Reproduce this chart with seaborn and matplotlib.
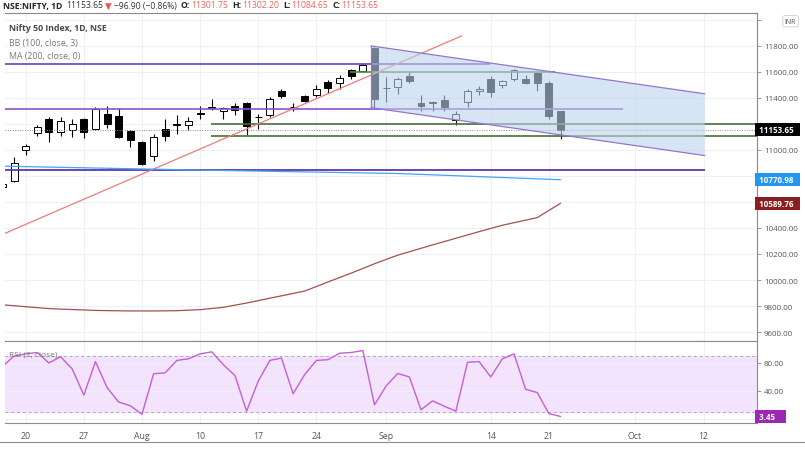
import numpy as np
import pandas as pd
import matplotlib
matplotlib.use('Agg')
import matplotlib.pyplot as plt
import matplotlib.transforms as mtrans
import seaborn as sns

# candles, indexed by trading day (0 = Jul 20)
bar_idx = list(range(-2, 47))
opens = [10712, 10758, 11001, 11128, 11241, 11139, 11156, 11238, 11159, 11279,
         11261, 11143, 11062, 10951, 11159, 11195, 11189, 11278, 11326, 11297,
         11338, 11361, 11253, 11266, 11457, 11329, 11411, 11419, 11522, 11514,
         11616, 11606, 11782, 11475, 11483, 11572, 11361, 11371, 11381, 11228,
         11369, 11450, 11547, 11496, 11542, 11542, 11591, 11514, 11301.75]
highs = [10760, 10942, 11049, 11190, 11250, 11250, 11240, 11245, 11330, 11340,
         11322, 11150, 11070, 11120, 11240, 11270, 11250, 11340, 11395, 11330,
         11360, 11365, 11275, 11410, 11465, 11360, 11425, 11500, 11540, 11575,
         11625, 11665, 11795, 11562, 11560, 11600, 11425, 11380, 11420, 11300,
         11465, 11490, 11565, 11540, 11625, 11575, 11600, 11530, 11302.20]
lows = [10700, 10750, 10960, 11110, 11064, 11110, 11100, 11090, 11150, 11170,
        11090, 11020, 10882, 10915, 11070, 11125, 11150, 11240, 11310, 11240,
        11265, 11115, 11160, 11250, 11400, 11300, 11370, 11410, 11440, 11470,
        11545, 11600, 11325, 11371, 11430, 11515, 11300, 11300, 11300, 11190,
        11330, 11420, 11410, 11475, 11530, 11505, 11450, 11240, 11084.65]
closes = [10742, 10903, 11031, 11174, 11141, 11220, 11200, 11139, 11312, 11202,
          11097, 11080, 10891, 11100, 11105, 11199, 11220, 11280, 11328, 11322,
          11304, 11185, 11255, 11394, 11411, 11331, 11379, 11470, 11478, 11555,
          11572, 11654, 11394, 11477, 11547, 11529, 11340, 11361, 11330, 11279,
          11457, 11470, 11445, 11527, 11611, 11516, 11514, 11258, 11153.65]

rsi = [75, 90, 93, 95, 80, 89, 71.5, 34, 82, 44.7, 24, 18.7, 6.5, 64.5, 66, 83.7,
       86, 93, 96, 77.6, 62, 11, 54, 83.7, 87, 36, 63.5, 83.7, 84.7, 94, 95, 97.8,
       20, 47, 65, 60, 13, 25.8, 18, 11, 81, 82, 60, 86, 93, 42.3, 37.6, 7.4, 3.45]

ma_idx = [-1.8, 2, 6, 9, 11, 13, 15, 17, 19, 21, 24, 26, 28, 30, 32, 35, 37, 39, 41, 44, 46]
ma_val = [9808, 9780, 9766, 9762, 9762, 9764, 9772, 9790, 9823, 9860, 9915, 9985,
          10053, 10125, 10191, 10270, 10321, 10372, 10421, 10480, 10590]
bb_idx = [-1.8, 15, 32, 46]
bb_val = [10875, 10845, 10819, 10771]

tick_pos = [0, 5, 10, 15, 20, 25, 31, 40, 45, 52.4, 58.3]
tick_lab = ['20', '27', 'Aug', '10', '17', '24', 'Sep', '14', '21', 'Oct', '12']
price_ticks = list(range(9600, 12001, 200))
# labels hidden behind the price tags / currency box
covered = [10600, 10800, 11200, 12000]

sns.set_style('white')
plt.rcParams['font.family'] = ['Open Sans', 'DejaVu Sans']

fig = plt.figure(figsize=(8.05, 4.52), dpi=100)
W, H = 805, 452
ax = fig.add_axes([5 / W, (H - 342) / H, 752 / W, 328 / H])
ax2 = fig.add_axes([5 / W, (H - 424) / H, 752 / W, 82 / H], sharex=ax)

XL = (-1.78, 62.9)
ax.set_xlim(*XL)
ax.set_ylim(9531, 12053)
grid_c = '#EDF1F7'
for a in (ax, ax2):
    for t in tick_pos:
        a.axvline(t, color=grid_c, lw=0.8, zorder=0)
    for s in a.spines.values():
        s.set_color('#8A8A8A')
        s.set_linewidth(0.8)
    a.spines['left'].set_visible(False)
for p in price_ticks:
    ax.axhline(p, color=grid_c, lw=0.8, zorder=0)

# horizontal drawings
ax.hlines(11662, -1.78, 39.9, color='#6A3FC0', lw=1.2, zorder=3)
ax.hlines(11317, -1.78, 51.4, color='#8E4FD0', lw=1.2, zorder=3)
ax.hlines(10842, -1.78, 58.4, color='#5E35B1', lw=1.3, zorder=3)
ax.hlines(11601, 27.9, 45.5, color='#4E8A3E', lw=1.2, zorder=3)
ax.hlines([11202, 11110], 15.9, 62.9, color='#4A6F35', lw=1.2, zorder=3)
ax.plot([-1.78, 37.5], [10359, 11877], color='#EF7B7B', lw=0.9, zorder=3)

# channel
cx = [29.7, 58.4, 58.4, 29.7]
cy = [11800, 11432, 10957, 11325]
ax.fill(cx, cy, color='#BCD3EE', alpha=0.6, zorder=4, lw=0)
ax.plot([29.7, 58.4], [11800, 11432], color='#9575CD', lw=0.9, zorder=4)
ax.plot([29.7, 58.4], [11325, 10957], color='#9575CD', lw=0.9, zorder=4)
ax.plot([29.7, 29.7], [11325, 11800], color='#9575CD', lw=0.9, zorder=4)

# indicators
sns.lineplot(x=bb_idx, y=bb_val, ax=ax, color='#42A5F5', lw=0.9, zorder=3)
sns.lineplot(x=ma_idx, y=ma_val, ax=ax, color='#A0524D', lw=0.9, zorder=3)

# candles
df = pd.DataFrame({'i': bar_idx, 'o': opens, 'h': highs, 'l': lows, 'c': closes})
ax.vlines(df['i'], df['l'], df['h'], color='black', lw=0.8, zorder=2)
body_lo = df[['o', 'c']].min(axis=1)
body_h = (df['c'] - df['o']).abs().clip(lower=3)
fc = ['black' if c < o else 'white' for o, c in zip(df['o'], df['c'])]
ax.bar(df['i'], body_h, bottom=body_lo, width=0.6, color=fc, edgecolor='black',
       lw=0.7, zorder=2)

ax.axhline(11153.65, color='#8A8A8A', lw=0.7, ls=(0, (1, 1.5)), zorder=3)

ax.yaxis.tick_right()
ax.set_yticks(price_ticks)
ax.set_yticklabels(['' if p in covered else f'{p:.2f}' for p in price_ticks],
                   fontsize=5.8, color='#555555')
ax.tick_params(axis='y', length=3, width=0.6, color='#8A8A8A', pad=2)
ax.tick_params(axis='x', length=0, labelbottom=False)

blend = mtrans.blended_transform_factory(ax.transAxes, ax.transData)
for val, col in [(11153.65, 'black'), (10770.98, '#2196F3'), (10589.76, '#8B1E1E')]:
    ax.text(1.0, val, f' {val:.2f}  ', transform=blend, fontsize=5.8, color='white',
            va='center', ha='left', fontweight='bold', zorder=10,
            bbox=dict(boxstyle='square,pad=0.25', fc=col, ec='none'), clip_on=False)
ax.text(1.037, 0.975, 'INR', transform=ax.transAxes, fontsize=5, color='#555555',
        ha='left', va='center', zorder=11,
        bbox=dict(boxstyle='round,pad=0.3', fc='white', ec='#CCCCCC', lw=0.6))

ax.text(0.005, 0.97, 'Nifty 50 Index, 1D, NSE', transform=ax.transAxes, fontsize=6.3,
        color='#4A4A4A', fontweight='bold', va='top')
ax.text(0.005, 0.925, 'BB (100, close, 3)', transform=ax.transAxes, fontsize=6.3,
        color='#777777', va='top')
ax.text(0.005, 0.885, 'MA (200, close, 0)', transform=ax.transAxes, fontsize=6.3,
        color='#777777', va='top')

# RSI panel
ax2.set_ylim(-6, 111.5)
ax2.axhspan(10, 90, color='#F3E3FD', zorder=0)
ax2.axhline(90, color='#B0A8B8', lw=0.7, ls=(0, (3, 3)))
ax2.axhline(10, color='#B0A8B8', lw=0.7, ls=(0, (3, 3)))
for p in (0, 40, 80):
    ax2.axhline(p, color=grid_c, lw=0.8, zorder=0.5)
sns.lineplot(x=bar_idx, y=rsi, ax=ax2, color='#C45FD6', lw=1.0, zorder=3)
ax2.yaxis.tick_right()
ax2.set_yticks([40, 80])
ax2.set_yticklabels(['40.00', '80.00'], fontsize=5.8, color='#555555')
ax2.tick_params(axis='y', length=3, width=0.6, color='#8A8A8A', pad=2)
ax2.set_xticks(tick_pos)
ax2.set_xticklabels(tick_lab, fontsize=6.3, color='#555555')
ax2.tick_params(axis='x', length=3, width=0.6, color='#8A8A8A', pad=3)
ax2.set_ylabel('')
ax.set_ylabel('')
ax2.set_xlim(*XL)
b2 = mtrans.blended_transform_factory(ax2.transAxes, ax2.transData)
ax2.text(1.0, 3.45, ' 3.45    ', transform=b2, fontsize=5.8, color='white', va='center',
         ha='left', fontweight='bold', bbox=dict(boxstyle='square,pad=0.25', fc='#9C27B0', ec='none'))
ax2.text(0.005, 0.88, 'RSI (2, close)', transform=ax2.transAxes, fontsize=6, color='#777777', va='top')

# header, pieces laid out one after another
hdr = [('NSE:NIFTY, 1D', '#222222', 'bold', 4), ('11153.65', '#333333', 'normal', 2),
       ('\u25bc', '#EF5350', 'normal', 2), ('\u221296.90 (\u22120.86%)', '#333333', 'normal', 4),
       ('O:', '#222222', 'bold', 1), ('11301.75', '#F0605D', 'normal', 4),
       ('H:', '#222222', 'bold', 1), ('11302.20', '#F0605D', 'normal', 4),
       ('L:', '#222222', 'bold', 1), ('11084.65', '#F0605D', 'normal', 4),
       ('C:', '#222222', 'bold', 1), ('11153.65', '#F0605D', 'normal', 0)]
renderer = fig.canvas.get_renderer()
xpos = 3
for s, c, w, gap in hdr:
    t = fig.text(xpos / W, 1 - 6 / H, s, fontsize=6.2, color=c, fontweight=w, va='center')
    xpos += t.get_window_extent(renderer).width + gap

fig.add_artist(plt.Line2D([0, 1], [1 - 443 / H] * 2, color='#8A8A8A', lw=0.8))
fig.savefig('out.png', dpi=100)
